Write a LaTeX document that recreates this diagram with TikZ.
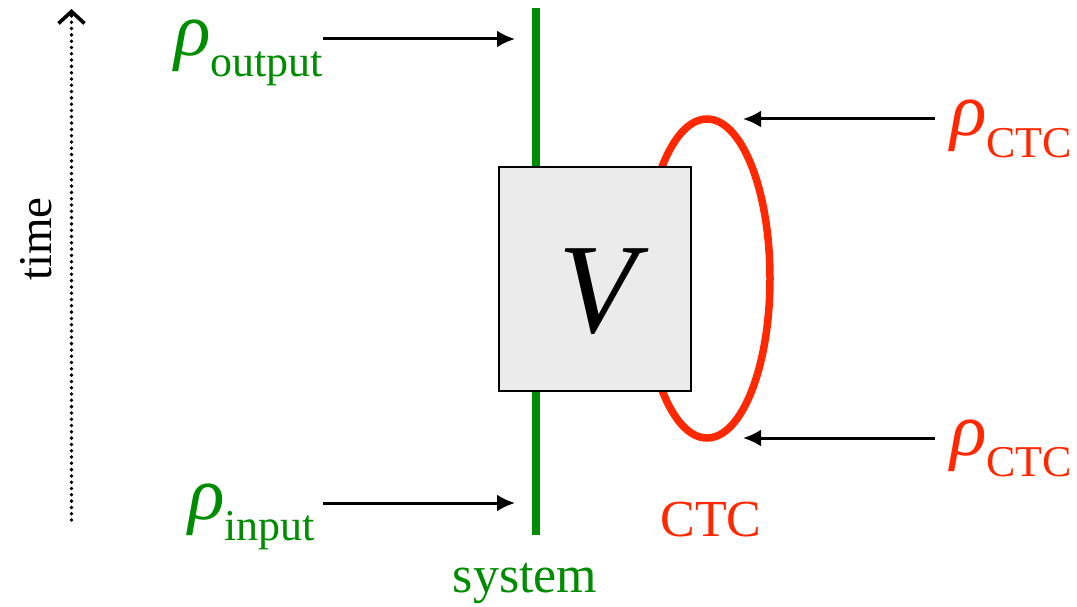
\documentclass[tikz,border=0pt]{standalone}
\usepackage{fontspec}
\setmainfont{Liberation Serif}
\usetikzlibrary{arrows.meta}
\definecolor{sysgreen}{RGB}{0,140,0}
\definecolor{ctcred}{RGB}{255,40,0}
\definecolor{boxgray}{RGB}{235,235,235}
\newcommand{\rholabel}[1]{{\fontsize{76}{76}\selectfont\textit{ρ}}\raisebox{-21pt}{\fontsize{44}{44}\selectfont #1}}
\tikzset{
  lbl/.style={inner sep=0pt, outer sep=0pt},
  feed/.style={line width=3pt, -{Latex[length=18pt,width=17pt]}},
}
\begin{document}
\begin{tikzpicture}[x=1pt,y=-1pt]
\useasboundingbox (0,0) rectangle (1077,607);
% time arrow
\coordinate (tbot) at (71.5,520);
\coordinate (ttop) at (71.5,9);
\draw[line width=3.8pt, line cap=round, dash pattern=on 0pt off 6.3pt] (tbot) -- ([yshift=-6pt]ttop);
\draw[line width=3.6pt, -{Straight Barb[length=12pt,width=26pt,line width=3.6pt]}] ([yshift=-8pt]ttop) -- (ttop);
\node[lbl, rotate=90, font=\fontsize{47}{47}\selectfont] (time) at (36,239) {time};
% CTC loop (behind box)
\draw[ctcred, line width=7.5pt] (707,278.5) ellipse [x radius=63, y radius=159.5];
% system line
\coordinate (systop) at (536,8);
\coordinate (sysbot) at (536,535);
\draw[sysgreen, line width=7.5pt] (systop) -- (sysbot);
% gate
\node[draw=black, line width=2pt, fill=boxgray, minimum width=192pt, minimum height=224pt, inner sep=0pt] (V) at (595,279) {};
\node[lbl, font=\fontsize{128}{128}\selectfont\itshape, anchor=base] (Vt) at (598,332) {V};
% labels
\node[lbl, anchor=base west, text=sysgreen] (rout) at (174,56) {\rholabel{output}};
\node[lbl, anchor=base west, text=sysgreen] (rin) at (188,519) {\rholabel{input}};
\node[lbl, anchor=base west, text=ctcred] (rctc1) at (950,136) {\rholabel{CTC}};
\node[lbl, anchor=base west, text=ctcred] (rctc2) at (950,455) {\rholabel{CTC}};
\node[lbl, anchor=base, text=ctcred, font=\fontsize{52}{52}\selectfont] (ctc) at (711,536) {CTC};
\node[lbl, anchor=base, text=sysgreen, font=\fontsize{52}{52}\selectfont] (sys) at (525,592) {system};
% arrow endpoints
\coordinate (ao1) at (323,39);  \coordinate (ao2) at (515,39);
\coordinate (ai1) at (323,503); \coordinate (ai2) at (515,503);
\coordinate (ac1) at (935,119); \coordinate (ac2) at (743,119);
\coordinate (ad1) at (935,438); \coordinate (ad2) at (743,438);
\draw[feed] (ao1) -- (ao2);
\draw[feed] (ai1) -- (ai2);
\draw[feed] (ac1) -- (ac2);
\draw[feed] (ad1) -- (ad2);
\end{tikzpicture}
\end{document}
